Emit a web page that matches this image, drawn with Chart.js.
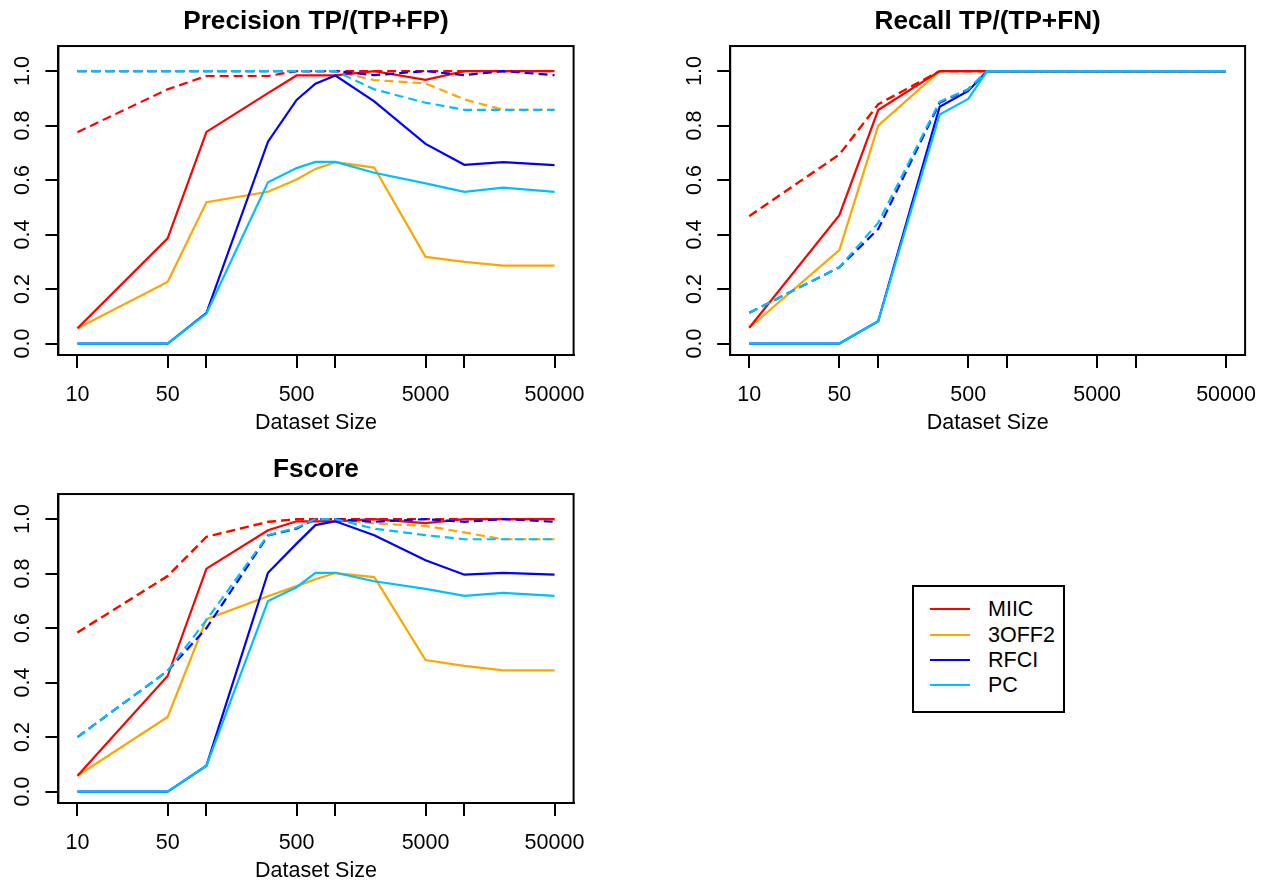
<!DOCTYPE html>
<html>
<head>
<meta charset="utf-8">
<script src="https://cdn.jsdelivr.net/npm/chart.js"></script>
<style>
  html, body { margin: 0; padding: 0; background: #fff; }
  body { width: 1274px; height: 886px; overflow: hidden; position: relative; font-family: 'Liberation Sans', Arial, Helvetica, sans-serif; }
  canvas { position: absolute; }
  #legend { position: absolute; left: 912px; top: 585px; width: 153px; height: 128px; box-sizing: border-box; border: 2px solid #000; background: #fff; }
  .lg-row { position: absolute; left: 0; height: 0; }
  .lg-line { position: absolute; left: 16px; width: 40px; height: 2px; top: -1px; }
  .lg-text { position: absolute; left: 74px; top: -13px; font-size: 21.5px; line-height: 26px; color: #000; white-space: nowrap; }
</style>
</head>
<body>
<canvas id="c1" width="637" height="443" style="left:0px;top:0px"></canvas>
<canvas id="c2" width="637" height="443" style="left:637px;top:0px"></canvas>
<canvas id="c3" width="637" height="443" style="left:0px;top:448px"></canvas>
<div id="legend"></div>
<script>
// ---------------- data ----------------
const DATASET_SIZES = [10, 50, 100, 300, 500, 700, 1000, 2000, 5000, 10000, 20000, 50000];
const X_TICKS = [10, 50, 100, 500, 1000, 5000, 10000, 50000];
const X_TICK_LABELS = ['10', '50', '', '500', '', '5000', '', '50000'];
const Y_TICKS = [0, 0.2, 0.4, 0.6, 0.8, 1.0];
const METHODS = ['MIIC', '3OFF2', 'RFCI', 'PC'];
const COLORS = ['#FF0000', '#FFA500', '#0000FF', '#00BFFF'];
const X_TITLE = 'Dataset Size';
const TITLES = ['Precision TP/(TP+FP)', 'Recall TP/(TP+FN)', 'Fscore'];

// Precision (solid)
const PREC_MIIC  = [0.056, 0.386, 0.777, 0.919, 0.984, 0.984, 0.984, 1.000, 0.968, 1.000, 1.000, 1.000];
const PREC_3OFF2 = [0.056, 0.226, 0.519, 0.557, 0.602, 0.641, 0.666, 0.646, 0.318, 0.300, 0.286, 0.286];
const PREC_RFCI  = [0.000, 0.000, 0.113, 0.741, 0.894, 0.954, 0.984, 0.889, 0.733, 0.656, 0.666, 0.655];
const PREC_PC    = [0.000, 0.000, 0.110, 0.592, 0.644, 0.667, 0.667, 0.627, 0.588, 0.557, 0.572, 0.557];
// Precision (dashed)
const PREC_MIIC_D  = [0.776, 0.933, 0.982, 0.982, 1.000, 1.000, 1.000, 1.000, 1.000, 1.000, 1.000, 1.000];
const PREC_3OFF2_D = [1.000, 1.000, 1.000, 1.000, 1.000, 1.000, 1.000, 0.967, 0.955, 0.896, 0.858, 0.858];
const PREC_RFCI_D  = [1.000, 1.000, 1.000, 1.000, 1.000, 1.000, 1.000, 0.985, 1.000, 0.985, 1.000, 0.985];
const PREC_PC_D    = [1.000, 1.000, 1.000, 1.000, 1.000, 1.000, 1.000, 0.933, 0.884, 0.858, 0.858, 0.858];

// Recall (solid)
const REC_MIIC  = [0.058, 0.471, 0.857, 1.000, 1.000, 1.000, 1.000, 1.000, 1.000, 1.000, 1.000, 1.000];
const REC_3OFF2 = [0.058, 0.343, 0.800, 1.000, 1.000, 1.000, 1.000, 1.000, 1.000, 1.000, 1.000, 1.000];
const REC_RFCI  = [0.000, 0.000, 0.082, 0.869, 0.927, 1.000, 1.000, 1.000, 1.000, 1.000, 1.000, 1.000];
const REC_PC    = [0.000, 0.000, 0.082, 0.841, 0.898, 1.000, 1.000, 1.000, 1.000, 1.000, 1.000, 1.000];
// Recall (dashed)
const REC_MIIC_D  = [0.468, 0.694, 0.878, 1.000, 1.000, 1.000, 1.000, 1.000, 1.000, 1.000, 1.000, 1.000];
const REC_3OFF2_D = [0.468, 0.694, 0.878, 1.000, 1.000, 1.000, 1.000, 1.000, 1.000, 1.000, 1.000, 1.000];
const REC_RFCI_D  = [0.113, 0.280, 0.420, 0.884, 0.933, 1.000, 1.000, 1.000, 1.000, 1.000, 1.000, 1.000];
const REC_PC_D    = [0.113, 0.280, 0.443, 0.888, 0.933, 1.000, 1.000, 1.000, 1.000, 1.000, 1.000, 1.000];

// Fscore (solid)
const F_MIIC  = [0.058, 0.424, 0.818, 0.959, 0.992, 0.992, 0.992, 1.000, 0.985, 1.000, 1.000, 1.000];
const F_3OFF2 = [0.058, 0.274, 0.633, 0.717, 0.754, 0.779, 0.802, 0.787, 0.483, 0.461, 0.445, 0.445];
const F_RFCI  = [0.000, 0.000, 0.095, 0.803, 0.910, 0.978, 0.992, 0.941, 0.849, 0.796, 0.803, 0.796];
const F_PC    = [0.000, 0.000, 0.095, 0.699, 0.750, 0.803, 0.803, 0.772, 0.744, 0.718, 0.729, 0.718];
// Fscore (dashed)
const F_MIIC_D  = [0.584, 0.791, 0.935, 0.990, 1.000, 1.000, 1.000, 1.000, 1.000, 1.000, 1.000, 1.000];
const F_3OFF2_D = [0.584, 0.791, 0.935, 0.990, 1.000, 1.000, 1.000, 0.984, 0.975, 0.951, 0.926, 0.926];
const F_RFCI_D  = [0.200, 0.443, 0.600, 0.940, 0.965, 1.000, 1.000, 0.990, 1.000, 0.990, 1.000, 0.990];
const F_PC_D    = [0.200, 0.443, 0.630, 0.941, 0.968, 1.000, 1.000, 0.965, 0.941, 0.926, 0.926, 0.926];

// drawing order, top-most first (indices into METHODS)
const DRAW_ORDER = [3, 2, 0, 1];

// ---------------- chart building ----------------
const FONT = "'Liberation Sans', Arial, Helvetica, sans-serif";
Chart.defaults.font.family = FONT;
Chart.defaults.color = '#000';

const boxPlugin = {
  id: 'rbox',
  afterDraw(chart) {
    const a = chart.chartArea, ctx = chart.ctx;
    ctx.save();
    ctx.strokeStyle = '#000';
    ctx.lineWidth = 2;
    ctx.strokeRect(a.left, a.top, a.right - a.left, a.bottom - a.top);
    ctx.restore();
  }
};

function makeDatasets(solid, dashed) {
  const ds = [];
  DRAW_ORDER.forEach(m => {
    ds.push({
      label: METHODS[m] + ' (dashed)',
      data: DATASET_SIZES.map((x, i) => ({ x: x, y: dashed[m][i] })),
      borderColor: COLORS[m], borderWidth: 2.2, borderDash: [9, 5],
      pointRadius: 0, tension: 0, fill: false
    });
    ds.push({
      label: METHODS[m],
      data: DATASET_SIZES.map((x, i) => ({ x: x, y: solid[m][i] })),
      borderColor: COLORS[m], borderWidth: 2.2,
      pointRadius: 0, tension: 0, fill: false
    });
  });
  return ds;
}

function makeChart(id, title, solid, dashed, padLeft, padRight) {
  const ctx = document.getElementById(id);
  return new Chart(ctx, {
    type: 'line',
    data: { datasets: makeDatasets(solid, dashed) },
    plugins: [boxPlugin],
    options: {
      responsive: false,
      devicePixelRatio: 1,
      animation: false,
      events: [],
      layout: { padding: { left: padLeft, right: padRight, top: 0, bottom: 0 } },
      plugins: {
        legend: { display: false },
        tooltip: { enabled: false },
        title: {
          display: true, text: title, fullSize: false, color: '#000',
          font: { family: FONT, size: 26.2, weight: 'bold', lineHeight: 1.2 },
          padding: { top: 6.3, bottom: 8.3 }
        }
      },
      scales: {
        x: {
          type: 'logarithmic', position: 'bottom',
          min: Math.pow(10, 0.852), max: Math.pow(10, 4.847),
          afterBuildTicks: s => { s.ticks = X_TICKS.map(v => ({ value: v })); },
          afterFit: s => { s.height = 88; },
          grid: { display: true, drawOnChartArea: false, drawTicks: true, tickLength: 13, color: '#000', lineWidth: 2 },
          border: { display: true, color: '#000', width: 2 },
          ticks: {
            autoSkip: false, maxRotation: 0, minRotation: 0, padding: 14.1, color: '#000',
            font: { family: FONT, size: 21.5, lineHeight: 1.2 },
            callback: (v, i) => X_TICK_LABELS[X_TICKS.indexOf(v)] ?? ''
          },
          title: {
            display: true, text: X_TITLE, color: '#000',
            font: { family: FONT, size: 21.5, lineHeight: 1.2 },
            padding: { top: 0, bottom: 6.6 }
          }
        },
        y: {
          type: 'linear', position: 'left',
          min: -0.042, max: 1.092,
          afterBuildTicks: s => { s.ticks = Y_TICKS.map(v => ({ value: v })); },
          afterFit: s => { s.width = 58.4; },
          grid: { display: true, drawOnChartArea: false, drawTicks: true, tickLength: 13, color: '#000', lineWidth: 2 },
          border: { display: true, color: '#000', width: 2 },
          ticks: {
            autoSkip: false, minRotation: 90, maxRotation: 90, crossAlign: 'center', padding: 7.6, color: '#000',
            font: { family: FONT, size: 21.5, lineHeight: 1.2 },
            callback: v => Number(v).toFixed(1)
          }
        }
      }
    }
  });
}

makeChart('c1', TITLES[0],
  [PREC_MIIC, PREC_3OFF2, PREC_RFCI, PREC_PC],
  [PREC_MIIC_D, PREC_3OFF2_D, PREC_RFCI_D, PREC_PC_D], 0, 63.4);
makeChart('c2', TITLES[1],
  [REC_MIIC, REC_3OFF2, REC_RFCI, REC_PC],
  [REC_MIIC_D, REC_3OFF2_D, REC_RFCI_D, REC_PC_D], 34.8, 28.9);
makeChart('c3', TITLES[2],
  [F_MIIC, F_3OFF2, F_RFCI, F_PC],
  [F_MIIC_D, F_3OFF2_D, F_RFCI_D, F_PC_D], 0, 63.4);

// ---------------- legend ----------------
const legend = document.getElementById('legend');
const ROW_Y = [24, 49.7, 74.7, 99.7];
METHODS.forEach((m, i) => {
  const row = document.createElement('div');
  row.className = 'lg-row';
  row.style.top = (ROW_Y[i] - 2) + 'px';
  const line = document.createElement('div');
  line.className = 'lg-line';
  line.style.background = COLORS[i];
  const txt = document.createElement('div');
  txt.className = 'lg-text';
  txt.textContent = m;
  row.appendChild(line);
  row.appendChild(txt);
  legend.appendChild(row);
});
</script>
</body>
</html>
